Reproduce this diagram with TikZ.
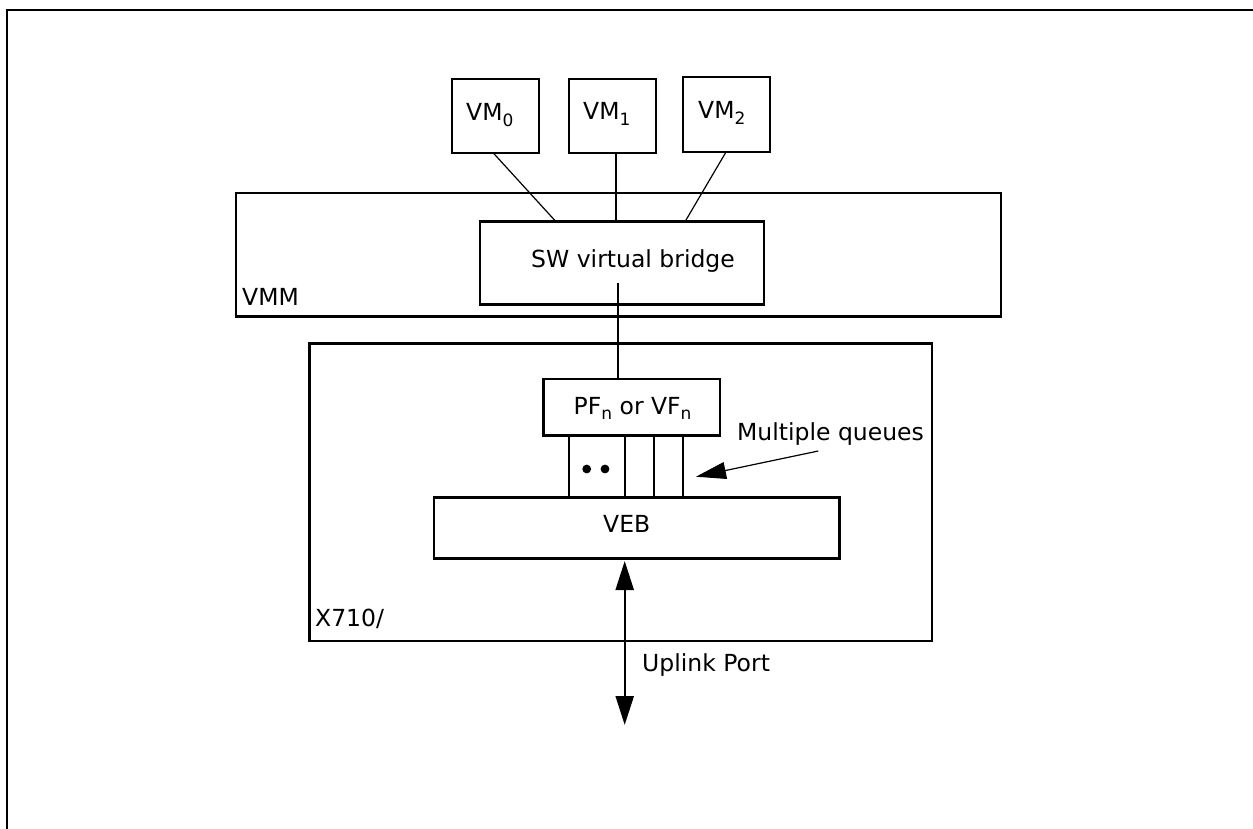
\documentclass[tikz,border=0pt]{standalone}
\usepackage{fontspec}
\setmainfont{DejaVu Sans}
\usetikzlibrary{arrows.meta,calc}
\newcommand\lsub[1]{\raisebox{-5.5pt}{\fontsize{17}{17}\selectfont #1}}
\tikzset{
  box/.style={draw, line width=2.4pt, inner sep=0pt, outer sep=0pt},
  lbl/.style={anchor=base west, inner sep=0pt, font=\fontsize{23.5}{28}\selectfont},
  thick line/.style={line width=2.4pt},
  thin line/.style={line width=1.2pt},
  bigtip/.style={-{Triangle[length=30pt,width=17pt]}},
}
\begin{document}
\begin{tikzpicture}[x=1pt,y=-1pt]
\useasboundingbox (0,0) rectangle (1253,829);
% outer frame (open on right and bottom)
\draw[line width=2.6pt] (1253,10) -- (7,10) -- (7,829);

% boxes
\node[box, minimum width=87pt, minimum height=74pt] (vm0) at (495.5,116) {};
\node[box, minimum width=87pt, minimum height=74pt] (vm1) at (612.5,116) {};
\node[box, minimum width=87pt, minimum height=75pt] (vm2) at (726.5,114.5) {};
\node[box, minimum width=765pt, minimum height=123.5pt] (vmm) at (618.5,254.75) {};
\node[box, minimum width=284pt, minimum height=82.6pt] (bridge) at (622,263) {};
\node[box, minimum width=622.4pt, minimum height=297.4pt] (x710) at (620.5,492) {};
\node[box, minimum width=176.7pt, minimum height=56.5pt] (pf) at (631.65,407.25) {};
\node[box, minimum width=405.3pt, minimum height=61.2pt] (veb) at (636.65,527.9) {};

% labels
\node[lbl] (tvm0) at (466,121) {VM\lsub{0}};
\node[lbl] (tvm1) at (583,120) {VM\lsub{1}};
\node[lbl] (tvm2) at (698,119) {VM\lsub{2}};
\node[lbl] (tbridge) at (531,267.7) {SW virtual bridge};
\node[lbl] (tvmm) at (242,305) {VMM};
\node[lbl] (tx710) at (315,626.7) {X710/};
\node[lbl] (tpf) at (573.5,414) {PF\lsub{n} or VF\lsub{n}};
\node[lbl] (tveb) at (603,532.7) {VEB};
\node[lbl] (tmq) at (737,440) {Multiple queues};
\node[lbl] (tup) at (642,671.7) {Uplink Port};

% VM connectors
\draw[thin line] ($(vm0.south)+(-2.2,0)$) -- ($(bridge.north west)+(76,0)$);
\coordinate (c1) at (615.7,0);
\draw[thick line] (vm1.south -| c1) -- (bridge.north -| c1);
\draw[thin line] ($(vm2.south)+(-0.5,0)$) -- ($(bridge.north west)+(205,0)$);

% bridge to PF
\coordinate (c2) at (617.7,282.7);
\draw[thick line] (c2) -- (pf.north -| c2);

% queues
\foreach \qx/\qn in {569/q1,625/q2,654/q3,683/q4}{
  \coordinate (\qn) at (\qx,0);
  \draw[thick line] (pf.south -| \qn) -- (veb.north -| \qn);
}
\fill (586.7,469) circle (4.4pt);
\fill (605,469) circle (4.4pt);

% multiple queues arrow
\coordinate (mqs) at (818.3,451);
\coordinate (mqe) at (696,476.7);
\draw[thin line, bigtip] (mqs) -- (mqe);

% uplink arrow
\coordinate (upe) at (624.7,725);
\draw[thick line, {Triangle[length=29pt,width=18pt]}-{Triangle[length=29pt,width=18pt]}]
  ($(veb.south -| upe)+(0,2.5)$) -- (upe);
\end{tikzpicture}
\end{document}
